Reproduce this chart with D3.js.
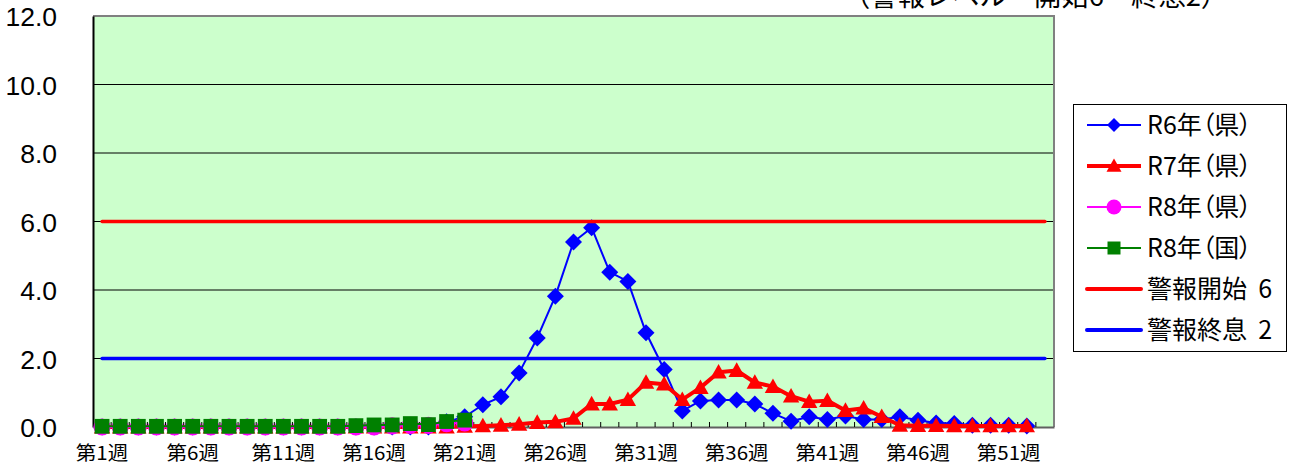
<!DOCTYPE html>
<html><head><meta charset="utf-8">
<script src="https://cdn.jsdelivr.net/npm/d3@7"></script>
<style>
html,body{margin:0;padding:0;background:#fff;}
svg{display:block;}
.jp{font-family:"Noto Sans CJK JP","Noto Sans",sans-serif;}
.palt{font-feature-settings:"palt";}
</style></head>
<body>
<svg id="chart" width="1290" height="466"></svg>
<script>
// ---- data ----
const weeks = d3.range(1, 54).map(i => "第" + i + "週");
const tickWeeks = ["第1週","第6週","第11週","第16週","第21週","第26週","第31週","第36週","第41週","第46週","第51週"];
const yTicks = [0, 2, 4, 6, 8, 10, 12];

const r6 = [0,0,0,0,0,0,0,0,0,0, 0,0,0,0,0,0,0,0,0,0.15,
  0.3,0.65,0.88,1.58,2.6,3.82,5.4,5.82,4.52,4.25,
  2.75,1.68,0.47,0.76,0.79,0.79,0.67,0.4,0.17,0.3,
  0.22,0.32,0.22,0.22,0.3,0.2,0.12,0.1,0.05,0.05,0.05,0.03];
const r7 = [0,0,0,0,0,0,0,0,0,0, 0,0,0,0,0,0,0,0,0,0,
  0.02,0.03,0.05,0.08,0.13,0.15,0.25,0.67,0.67,0.8,
  1.3,1.25,0.8,1.15,1.6,1.65,1.3,1.18,0.9,0.74,
  0.77,0.48,0.55,0.3,0.05,0.04,0.04,0.03,0.03,0.03,0.03,0.03];
const r8pref = [0,0,0,0,0,0,0,0,0,0, 0,0,0,0,0,0,0.03,0.05,0.05,0.1,0.12];
const r8nat = [0.02,0.02,0.02,0.02,0.02,0.02,0.02,0.02,0.02,0.02,
  0.02,0.02,0.02,0.02,0.04,0.06,0.06,0.1,0.07,0.16,0.2];
const alertStart = 6;
const alertEnd = 2;
const seriesNames = ["R6年（県）","R7年（県）","R8年（県）","R8年（国）","警報開始 6","警報終息 2"];
const titleText = "（警報レベル　開始6　終息2）";

// ---- layout ----
const svg = d3.select("#chart");
const L = 93, R = 1054, T = 16, B = 427;
const x = d3.scaleBand().domain(weeks).range([L, R]);
const y = d3.scaleLinear().domain([0, 12]).range([B, T]);
const cx = w => x(w) + x.bandwidth() / 2;

// plot background
svg.append("rect").attr("x", L).attr("y", T).attr("width", R - L).attr("height", B - T).attr("fill", "#CCFFCC");

// gridlines
svg.append("g").selectAll("line").data(yTicks.filter(v => v > 0 && v < 12)).join("line")
  .attr("x1", L).attr("x2", R).attr("y1", d => y(d)).attr("y2", d => y(d))
  .attr("stroke", "#000").attr("stroke-width", 1);

// borders
svg.append("line").attr("x1", L).attr("x2", R + 1).attr("y1", T).attr("y2", T).attr("stroke", "#808080").attr("stroke-width", 2);
svg.append("line").attr("x1", R).attr("x2", R).attr("y1", T).attr("y2", B).attr("stroke", "#808080").attr("stroke-width", 2);

// y axis
const yAxis = d3.axisLeft(y).tickValues(yTicks).tickSize(0).tickFormat(d3.format(".1f"));
const yg = svg.append("g").attr("transform", `translate(${L},0)`).call(yAxis);
yg.select(".domain").attr("stroke", "#000").attr("stroke-width", 2);
yg.selectAll("text").attr("x", 57 - L).attr("dy", "0.36em").attr("text-anchor", "end")
  .attr("font-family", "'Liberation Sans', Arial, sans-serif").attr("font-size", 26.5).attr("fill", "#000");

// x axis
const xAxis = d3.axisBottom(x).tickValues(tickWeeks).tickSize(0);
const xg = svg.append("g").attr("transform", `translate(0,${B})`).call(xAxis);
xg.select(".domain").attr("stroke", "#606060").attr("stroke-width", 2);
xg.selectAll("text").attr("class", "jp").attr("y", 0).attr("dy", "0")
  .attr("font-family", null).attr("font-size", 19).attr("fill", "#000")
  .attr("transform", "translate(0,33) scale(1.08,1)");
// boundary ticks
svg.append("g").selectAll("line").data(weeks.slice(1)).join("line")
  .attr("x1", d => x(d)).attr("x2", d => x(d)).attr("y1", B).attr("y2", B - 5)
  .attr("stroke", "#000").attr("stroke-width", 1);

// series helpers
function markerPath(type, s) {
  if (type === "diamond") return `M0,${-s}L${s},0L0,${s}L${-s},0Z`;
  if (type === "triangle") return `M0,${-s}L${s},${s * 0.78}L${-s},${s * 0.78}Z`;
  if (type === "square") return `M${-s},${-s}H${s}V${s}H${-s}Z`;
  return null;
}
function drawSeries(vals, color, lw, type, size) {
  const pts = vals.map((v, i) => [cx(weeks[i]), y(v)]);
  svg.append("path").attr("d", d3.line()(pts)).attr("fill", "none").attr("stroke", color)
    .attr("stroke-width", lw).attr("stroke-linejoin", "round");
  const g = svg.append("g");
  pts.forEach(p => {
    if (type === "circle") g.append("circle").attr("cx", p[0]).attr("cy", p[1]).attr("r", size).attr("fill", color);
    else g.append("path").attr("transform", `translate(${p[0]},${p[1]})`)
      .attr("d", markerPath(type, size)).attr("fill", color);
  });
}
drawSeries(r6, "#0000FF", 2, "diamond", 8.5);
drawSeries(r7, "#FF0000", 4, "triangle", 8.2);
drawSeries(r8pref, "#FF00FF", 2, "circle", 8.6);
drawSeries(r8nat, "#008000", 2, "square", 7.4);

// threshold lines
[[alertStart, "#FF0000"], [alertEnd, "#0000FF"]].forEach(([v, c]) => {
  svg.append("line").attr("x1", cx(weeks[0])).attr("x2", cx(weeks[52]))
    .attr("y1", y(v)).attr("y2", y(v)).attr("stroke", c).attr("stroke-width", 3.5).attr("stroke-linecap", "round");
});

// title (cut off at top, as in the reference)
svg.append("text").attr("class", "jp").attr("x", 843).attr("y", 6).attr("font-size", 27.3)
  .attr("fill", "#000").text(titleText);

// legend
const lg = svg.append("g");
lg.append("rect").attr("x", 1073.5).attr("y", 104.5).attr("width", 213).attr("height", 247)
  .attr("fill", "#fff").attr("stroke", "#000").attr("stroke-width", 1);
const legendDefs = [
  {c: "#0000FF", lw: 2, m: "diamond", s: 7},
  {c: "#FF0000", lw: 4, m: "triangle", s: 7.5},
  {c: "#FF00FF", lw: 2, m: "circle", s: 7.5},
  {c: "#008000", lw: 2, m: "square", s: 6.5},
  {c: "#FF0000", lw: 4, m: null},
  {c: "#0000FF", lw: 4, m: null}
];
seriesNames.forEach((name, i) => {
  const yy = 125 + i * 41;
  const d = legendDefs[i];
  lg.append("line").attr("x1", 1087).attr("x2", 1141).attr("y1", yy).attr("y2", yy)
    .attr("stroke", d.c).attr("stroke-width", d.lw).attr("stroke-linecap", d.m ? "butt" : "round");
  if (d.m === "circle") lg.append("circle").attr("cx", 1114).attr("cy", yy).attr("r", d.s).attr("fill", d.c);
  else if (d.m) lg.append("path").attr("transform", `translate(1114,${yy})`)
    .attr("d", markerPath(d.m, d.s)).attr("fill", d.c);
  lg.append("text").attr("class", "jp palt").attr("x", 1147).attr("y", yy).attr("dy", "0.36em")
    .attr("font-size", 25).attr("fill", "#000").attr("xml:space", "preserve").text(name.replace(" ", "  "));
});
</script>
</body></html>
